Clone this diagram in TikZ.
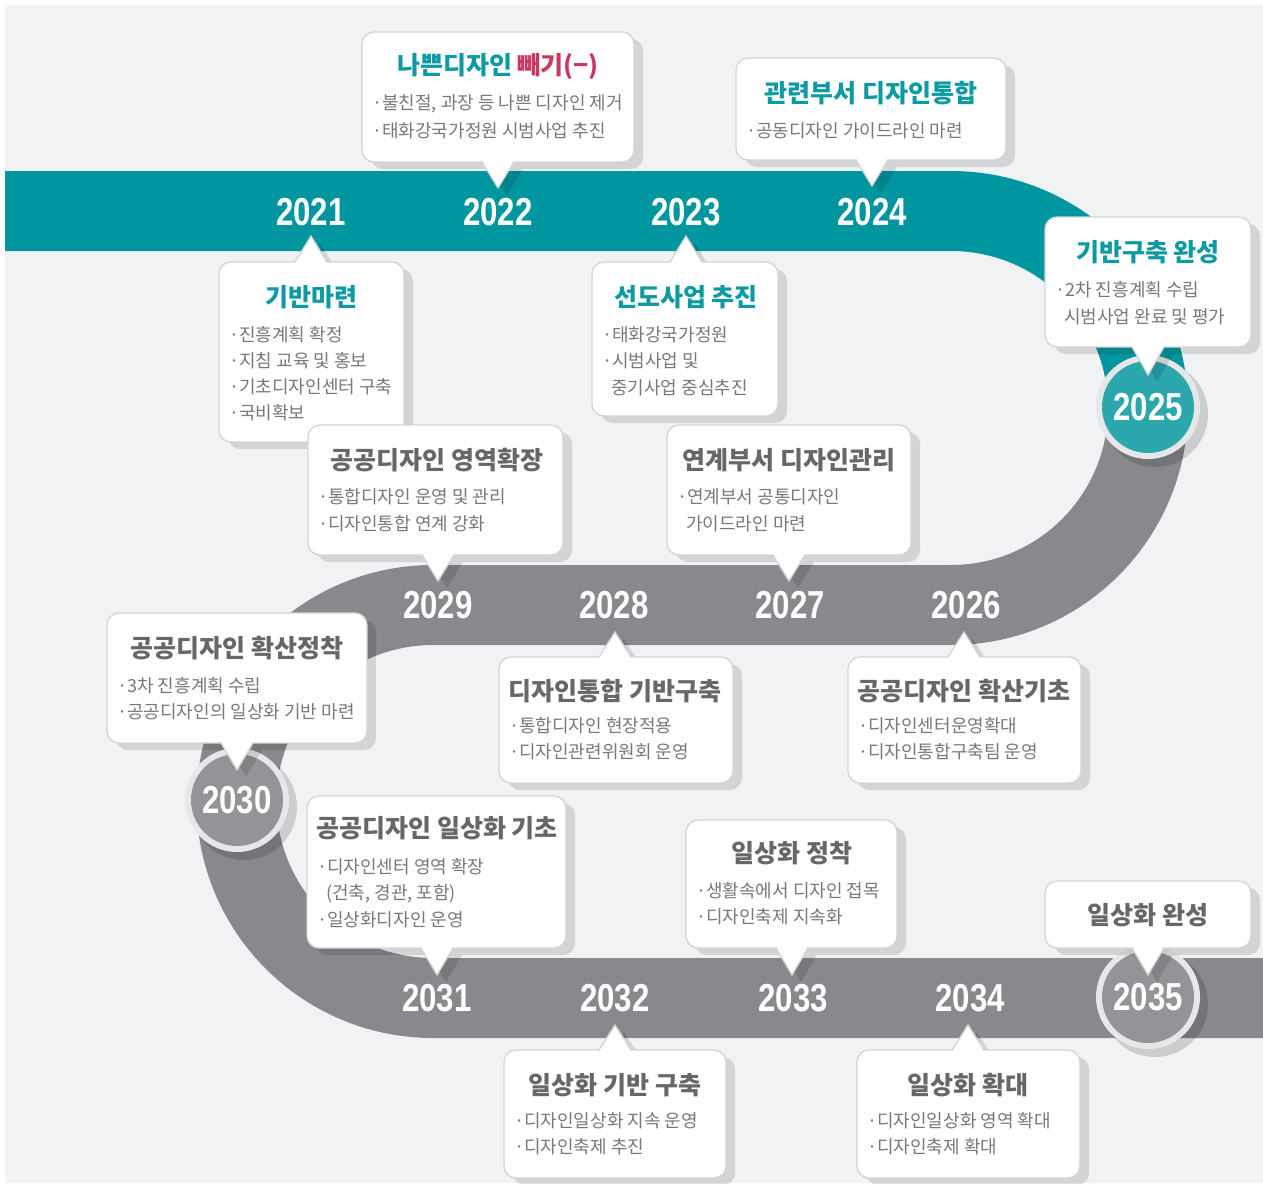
\documentclass[tikz,border=0pt]{standalone}
\usepackage{fontspec}
\newfontfamily\kr{Noto Sans CJK KR}
\newfontfamily\yrfont{Liberation Sans}
\definecolor{bgc}{HTML}{F1F2F4}
\definecolor{roadteal}{HTML}{00969F}
\definecolor{circteal}{HTML}{2CA7AD}
\definecolor{roadgray}{HTML}{88898C}
\definecolor{circgray}{HTML}{939497}
\definecolor{ringc}{HTML}{E6E7E9}
\definecolor{titleteal}{HTML}{0E9AA2}
\definecolor{titlered}{HTML}{C8385F}
\definecolor{titlegray}{HTML}{666769}
\definecolor{bodygray}{HTML}{77787B}
\definecolor{boxline}{HTML}{D3D4D6}
\tikzset{
  ttlbase/.style={font=\kr\bfseries\fontsize{25}{25}\selectfont, inner sep=0pt},
  ttl/.style={ttlbase, text=titleteal},
  ttg/.style={ttlbase, text=titlegray},
  bodytxt/.style={font=\kr\fontsize{18}{18}\selectfont, text=bodygray, anchor=west, inner sep=0pt},
  yr/.style={font=\yrfont\bfseries\fontsize{39}{39}\selectfont, text=white, inner sep=0pt},
  boxbody/.style={fill=white, draw=boxline, line width=1.3pt, rounded corners=12pt},
  shadefill/.style={fill=black, fill opacity=0.12},
  road/.style={line width=80pt},
}
% x1 y1 x2 y2 apexx basey apexy
\newcommand\calloutbox[7]{%
  \fill[shadefill, shift={(9,7)}] [rounded corners=12pt] (#1,#2) rectangle (#3,#4)
     [sharp corners] ({#5-16},{#6}) -- ({#5},{#7}) -- ({#5+16},{#6}) -- cycle;
  \draw[boxbody] (#1,#2) rectangle (#3,#4);
  \fill[white] ({#5-16},{#6}) -- ({#5},{#7}) -- ({#5+16},{#6}) -- cycle;
  \fill[white] ({#5-15},{#6-1.5}) rectangle ({#5+15},{#6+1.5});
  \draw[boxline, line width=1.3pt] ({#5-16},{#6}) -- ({#5},{#7}) -- ({#5+16},{#6});
}
\newcommand\yrtxt[1]{\scalebox{0.8}[1]{#1}}
\begin{document}
\begin{tikzpicture}[x=1pt, y=-1pt]
\useasboundingbox (0,0) rectangle (1263,1183);
\fill[white] (0,0) rectangle (1263,1183);
\fill[bgc] (5,5) rectangle (1263,1183);

% road
\draw[road, roadteal] (5,211) -- (951,211) arc[start angle=-90, end angle=0, radius=197];
\draw[road, roadgray] (1148,408) arc[start angle=0, end angle=90, radius=197]
   -- (433,605) arc[start angle=-90, end angle=-270, radius=196.5] -- (1275,998);

% circles
\fill[black, opacity=0.15] (1155,414) circle[radius=53];
\fill[ringc] (1148,407) circle[radius=52];
\fill[circteal] (1148,407) circle[radius=46];
\fill[black, opacity=0.15] (244,807) circle[radius=53];
\fill[ringc] (237,800) circle[radius=52];
\fill[circgray] (237,800) circle[radius=46];
\fill[black, opacity=0.15] (1155,1004) circle[radius=53];
\fill[ringc] (1148,997) circle[radius=52];
\fill[circgray] (1148,997) circle[radius=46];

% callouts
\calloutbox{362}{32}{634}{162}{498}{162}{188}
\calloutbox{736}{58}{1006}{160}{872}{160}{186}
\calloutbox{219}{262}{404}{442}{311}{262}{236}
\calloutbox{592}{262}{778}{416}{686}{262}{236}
\calloutbox{1045}{217}{1251}{347}{1148}{347}{375}
\calloutbox{308}{425}{563}{555}{438}{555}{581}
\calloutbox{667}{425}{911}{555}{789}{555}{581}
\calloutbox{107}{613}{367}{743}{237}{743}{770}
\calloutbox{499}{657}{733}{783}{615}{657}{632}
\calloutbox{848}{657}{1081}{783}{964}{657}{632}
\calloutbox{307}{796}{566}{948}{437}{948}{975}
\calloutbox{686}{820}{897}{948}{792}{948}{975}
\calloutbox{1045}{881}{1251}{948}{1148}{948}{975}
\calloutbox{504}{1050}{726}{1178}{615}{1050}{1025}
\calloutbox{857}{1050}{1080}{1178}{968}{1050}{1025}

% years
\node[yr] (y2021) at (311,212) {\yrtxt{2021}};
\node[yr] (y2022) at (498,212) {\yrtxt{2022}};
\node[yr] (y2023) at (686,212) {\yrtxt{2023}};
\node[yr] (y2024) at (872,212) {\yrtxt{2024}};
\node[yr] (y2025) at (1148,407) {\yrtxt{2025}};
\node[yr] (y2026) at (966,605) {\yrtxt{2026}};
\node[yr] (y2027) at (790,605) {\yrtxt{2027}};
\node[yr] (y2028) at (614,605) {\yrtxt{2028}};
\node[yr] (y2029) at (438,605) {\yrtxt{2029}};
\node[yr] (y2030) at (237,800) {\yrtxt{2030}};
\node[yr] (y2031) at (437,998) {\yrtxt{2031}};
\node[yr] (y2032) at (615,998) {\yrtxt{2032}};
\node[yr] (y2033) at (793,998) {\yrtxt{2033}};
\node[yr] (y2034) at (970,998) {\yrtxt{2034}};
\node[yr] (y2035) at (1148,997) {\yrtxt{2035}};

% box texts
\node[ttl] (t1) at (498,66) {나쁜디자인 {\color{titlered}빼기(−)}};
\node[bodytxt] (b1a) at (372,104) {·불친절, 과장 등 나쁜 디자인 제거};
\node[bodytxt] (b1b) at (372,131) {·태화강국가정원 시범사업 추진};

\node[ttl] (t2) at (871,93) {관련부서 디자인통합};
\node[bodytxt] (b2a) at (746,131) {·공동디자인 가이드라인 마련};

\node[ttl] (t3) at (1148,252) {기반구축 완성};
\node[bodytxt] (b3a) at (1055,290) {·2차 진흥계획 수립};
\node[bodytxt] (b3b) at (1064,317) {시범사업 완료 및 평가};

\node[ttl] (t4) at (311,297) {기반마련};
\node[bodytxt] (b4a) at (229,335) {·진흥계획 확정};
\node[bodytxt] (b4b) at (229,361) {·지침 교육 및 홍보};
\node[bodytxt] (b4c) at (229,387) {·기초디자인센터 구축};
\node[bodytxt] (b4d) at (229,413) {·국비확보};

\node[ttl] (t5) at (686,297) {선도사업 추진};
\node[bodytxt] (b5a) at (602,335) {·태화강국가정원};
\node[bodytxt] (b5b) at (602,361) {·시범사업 및};
\node[bodytxt] (b5c) at (611,388) {중기사업 중심추진};

\node[ttg] (t6) at (437,460) {공공디자인 영역확장};
\node[bodytxt] (b6a) at (318,497) {·통합디자인 운영 및 관리};
\node[bodytxt] (b6b) at (318,524) {·디자인통합 연계 강화};

\node[ttg] (t7) at (789,460) {연계부서 디자인관리};
\node[bodytxt] (b7a) at (677,497) {·연계부서 공통디자인};
\node[bodytxt] (b7b) at (686,524) {가이드라인 마련};

\node[ttg] (t8) at (237,648) {공공디자인 확산정착};
\node[bodytxt] (b8a) at (117,686) {·3차 진흥계획 수립};
\node[bodytxt] (b8b) at (117,712) {·공공디자인의 일상화 기반 마련};

\node[ttg] (t9) at (615,691) {디자인통합 기반구축};
\node[bodytxt] (b9a) at (509,726) {·통합디자인 현장적용};
\node[bodytxt] (b9b) at (509,752) {·디자인관련위원회 운영};

\node[ttg] (t10) at (964,691) {공공디자인 확산기초};
\node[bodytxt] (b10a) at (858,726) {·디자인센터운영확대};
\node[bodytxt] (b10b) at (858,752) {·디자인통합구축팀 운영};

\node[ttg] (t11) at (437,828) {공공디자인 일상화 기초};
\node[bodytxt] (b11a) at (317,867) {·디자인센터 영역 확장};
\node[bodytxt] (b11b) at (326,894) {(건축, 경관, 포함)};
\node[bodytxt] (b11c) at (317,920) {·일상화디자인 운영};

\node[ttg] (t12) at (792,853) {일상화 정착};
\node[bodytxt] (b12a) at (696,891) {·생활속에서 디자인 접목};
\node[bodytxt] (b12b) at (696,917) {·디자인축제 지속화};

\node[ttg] (t13) at (1148,915) {일상화 완성};

\node[ttg] (t14) at (615,1085) {일상화 기반 구축};
\node[bodytxt] (b14a) at (514,1121) {·디자인일상화 지속 운영};
\node[bodytxt] (b14b) at (514,1147) {·디자인축제 추진};

\node[ttg] (t15) at (968,1085) {일상화 확대};
\node[bodytxt] (b15a) at (867,1121) {·디자인일상화 영역 확대};
\node[bodytxt] (b15b) at (867,1147) {·디자인축제 확대};
\end{tikzpicture}
\end{document}
